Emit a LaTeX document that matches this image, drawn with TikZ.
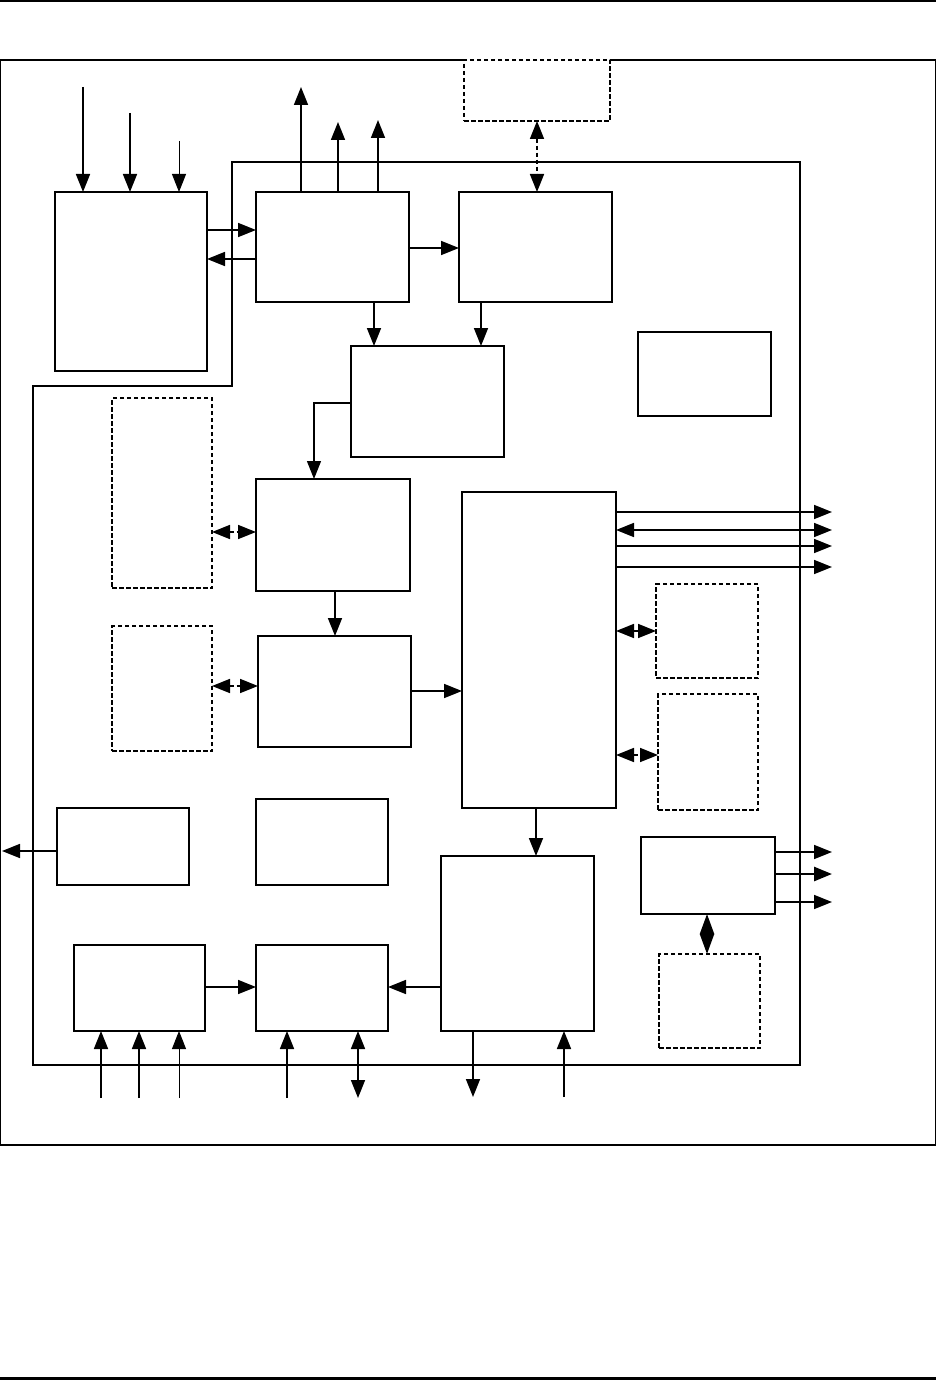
\documentclass[tikz,border=0pt]{standalone}
\usetikzlibrary{arrows.meta}
\tikzset{
  block/.style={draw, line width=2pt, inner sep=0pt, outer sep=0pt, anchor=north west},
  dblock/.style={block, line width=1.7pt, dash pattern=on 4.5pt off 2.5pt},
  arr/.style={line width=1.7pt, -{Triangle[length=18pt,width=14pt]}},
  darr/.style={line width=1.7pt, {Triangle[length=18pt,width=14pt]}-{Triangle[length=18pt,width=14pt]}},
  dsh/.style={dash pattern=on 4.5pt off 2.5pt},
  chip/.style={line width=2.5pt, line join=miter}
}
\begin{document}
\begin{tikzpicture}[x=1pt, y=-1pt]
  \useasboundingbox (0,0) rectangle (936,1380);
  % page rules
  \draw[line width=2.4pt] (0,1.2) -- (936,1.2);
  \draw[line width=3pt] (0,1378.5) -- (936,1378.5);
  % solid blocks: name/x/y/w/h
  \foreach \n/\x/\y/\w/\h in {clk/55/192/152/179, core/256/192/153/110, cache/459/192/153/110,
      bridge/351/346/153/111, misc/638/332/133/84, ctrl/256/479/154/112, dma/258/636/153/111,
      bus/462/492/154/316, outbuf/57/808/132/77, reg/256/799/132/86, adc/74/945/131/86,
      mux/256/945/132/86, io/441/856/153/175, drv/641/837/134/77}
    \node[block, minimum width=\w pt, minimum height=\h pt] (\n) at (\x,\y) {};
  % dashed (external) blocks
  \foreach \n/\x/\y/\w/\h in {ext/464/60/146/61, extA/112/398/100/190, extB/112/626/100/125,
      extC/656/584/102/94, extD/658/694/100/116, extE/659/954/101/94}
    \node[dblock, minimum width=\w pt, minimum height=\h pt] (\n) at (\x,\y) {};
  % frame and chip outline
  \draw[line width=1.3pt] (ext.north west) -| (0.7,1145) -| (935.3,60) -- (ext.north east);
  \draw[chip] (232,162) -| (800,1065) -| (33,386) -- (232,386) -- cycle;

  % top side
  \foreach \x/\y/\w in {83/87/1.7, 130/113/1.7, 179/141/1} {
    \coordinate (i\x) at (\x,\y);
    \draw[arr, line width=\w pt] (i\x) -- (i\x |- clk.north);
  }
  \foreach \x/\y in {301/87, 338/122, 378/120} {
    \coordinate (u\x) at (\x,\y);
    \draw[arr] (u\x |- core.north) -- (u\x);
  }
  \draw[arr] (clk.east |- 0,230) -- (core.west |- 0,230);
  \draw[arr] (core.west |- 0,259) -- (clk.east |- 0,259);
  \draw[arr] (core.east |- 0,248) -- (cache.west |- 0,248);
  \draw[darr, dsh] (ext.south) -- (ext.south |- cache.north);
  \draw[arr] (core.south -| 374,0) -- (bridge.north -| 374,0);
  \draw[arr] (cache.south -| 481,0) -- (bridge.north -| 481,0);
  \draw[arr, line width=1.3pt] (bridge.west |- 0,403) -| (ctrl.north -| 314,0);

  % middle
  \draw[darr, dsh] (extA.east |- 0,532) -- (ctrl.west |- 0,532);
  \draw[darr, dsh] (extB.east |- 0,686) -- (dma.west |- 0,686);
  \draw[arr] (ctrl.south -| 335,0) -- (dma.north -| 335,0);
  \draw[arr] (dma.east |- 0,691) -- (bus.west |- 0,691);
  \foreach \y in {512, 546, 567} {
    \coordinate (o\y) at (832,\y);
    \draw[arr] (bus.east |- o\y) -- (o\y);
  }
  \coordinate (o530) at (832,530);
  \draw[darr] (bus.east |- o530) -- (o530);
  \draw[darr, dsh] (bus.east |- 0,631) -- (extC.west |- 0,631);
  \draw[darr, dsh] (bus.east |- 0,755) -- (extD.west |- 0,755);
  \draw[arr] (bus.south -| 536,0) -- (io.north -| 536,0);

  % bottom side
  \coordinate (lout) at (2,851);
  \draw[arr] (outbuf.west |- lout) -- (lout);
  \foreach \x/\w in {101/1.7, 139/1.7, 179/1} {
    \coordinate (a\x) at (\x,1098);
    \draw[arr, line width=\w pt] (a\x) -- (a\x |- adc.south);
  }
  \draw[arr] (adc.east |- 0,987) -- (mux.west |- 0,987);
  \draw[arr] (io.west |- 0,987) -- (mux.east |- 0,987);
  \coordinate (m287) at (287,1098);
  \coordinate (m358) at (358,1098);
  \draw[arr] (m287) -- (m287 |- mux.south);
  \draw[darr] (m358 |- mux.south) -- (m358);
  \coordinate (d473) at (473,1097);
  \coordinate (d564) at (564,1097);
  \draw[arr] (d473 |- io.south) -- (d473);
  \draw[arr] (d564) -- (d564 |- io.south);
  \foreach \y/\w in {852/1.7, 874/2.6, 902/1.7} {
    \coordinate (r\y) at (832,\y);
    \draw[arr, line width=\w pt] (drv.east |- r\y) -- (r\y);
  }
  \draw[line width=2pt, {Triangle[length=20pt,width=14pt]}-{Triangle[length=20pt,width=14pt]}]
    (drv.south -| 707,0) -- (extE.north -| 707,0);
\end{tikzpicture}
\end{document}
